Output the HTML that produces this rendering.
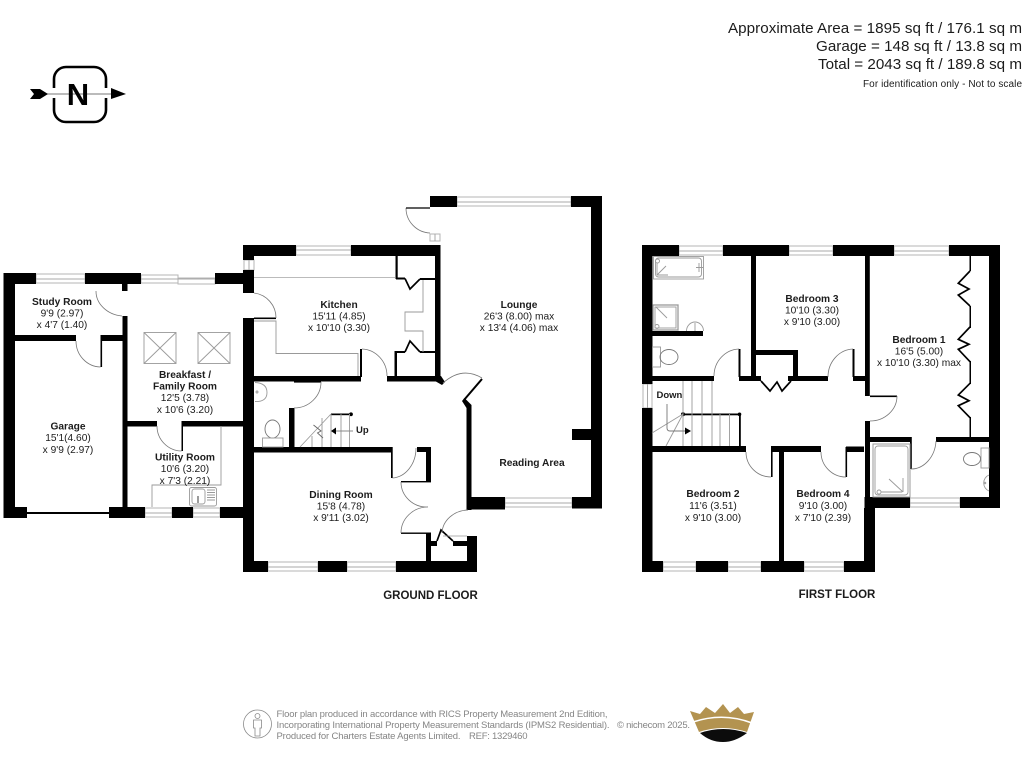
<!DOCTYPE html>
<html lang="en"><head><meta charset="utf-8"><title>Floor plan</title>
<style>
html,body{margin:0;padding:0;background:#fff;width:1024px;height:768px;overflow:hidden}
svg{display:block;filter:blur(.3px)}
text{font-family:"Liberation Sans",sans-serif;fill:#1c1c1c}
.r text,.r{text-anchor:middle;font-size:10.2px}
.b{font-weight:bold}
.w rect{fill:#000}
.win rect{fill:#fff;stroke:#b5b5b5;stroke-width:1}
.win line{stroke:#a8a8a8;stroke-width:1}
.g{fill:none;stroke:#9a9a9a;stroke-width:.9}
.d{fill:none;stroke:#777;stroke-width:.8}
.k{fill:none;stroke:#000;stroke-width:1.7}
</style></head><body>
<svg width="1024" height="768" viewBox="0 0 1024 768" xmlns="http://www.w3.org/2000/svg">
<rect width="1024" height="768" fill="#fff"/>

<!-- Header -->
<g style="text-anchor:end">
<text x="1022" y="33" font-size="15.2px" textLength="294">Approximate Area = 1895 sq ft / 176.1 sq m</text>
<text x="1022" y="51" font-size="15.2px" textLength="206">Garage = 148 sq ft / 13.8 sq m</text>
<text x="1022" y="69" font-size="15.2px" textLength="204">Total = 2043 sq ft / 189.8 sq m</text>
<text x="1022" y="87" font-size="10px" textLength="159">For identification only - Not to scale</text>
</g>

<!-- North -->
<g>
<path d="M54 88V79a12 12 0 0 1 12-12h28a12 12 0 0 1 12 12v9M54 98v12a12 12 0 0 0 12 12h28a12 12 0 0 0 12-12V98" fill="none" stroke="#000" stroke-width="2.6"/>
<line x1="46" y1="94" x2="112" y2="94" stroke="#777" stroke-width="1"/>
<polygon points="30,89 40,89 48,94 40,99 30,99 34,94" fill="#000"/>
<polygon points="111,88 126,94 111,99" fill="#000"/>
<text x="78" y="105" font-size="31px" class="b" text-anchor="middle" style="fill:#000">N</text>
</g>

<!-- GROUND FLOOR windows -->
<g class="win">
<rect x="36" y="274" width="49" height="9"/><line x1="36" y1="279" x2="85" y2="279"/>
<rect x="141" y="275" width="37" height="8"/><rect x="178" y="278" width="37" height="6"/><line x1="141" y1="279" x2="215" y2="279"/>
<rect x="145" y="508" width="27" height="9"/><line x1="145" y1="513" x2="172" y2="513"/>
<rect x="193" y="508" width="27" height="9"/><line x1="193" y1="513" x2="220" y2="513"/>
<rect x="296" y="246" width="55" height="9"/><line x1="296" y1="250" x2="351" y2="250"/>
<rect x="457" y="197" width="114" height="9"/><line x1="457" y1="202" x2="571" y2="202"/>
<rect x="505" y="498" width="67" height="9"/><line x1="505" y1="503" x2="572" y2="503"/>
<rect x="268" y="562" width="50" height="9"/><line x1="268" y1="567" x2="318" y2="567"/>
<rect x="347" y="562" width="49" height="9"/><line x1="347" y1="567" x2="396" y2="567"/>
<rect x="430" y="234" width="10" height="7"/><line x1="435" y1="234" x2="435" y2="241"/>
<rect x="244" y="260" width="10" height="10"/><line x1="249" y1="260" x2="249" y2="270"/>
</g>

<!-- GROUND FLOOR walls -->
<g class="w">
<rect x="3.5" y="273" width="11.5" height="245"/>
<rect x="3.5" y="273" width="32.5" height="11"/>
<rect x="85" y="273" width="56" height="11"/>
<rect x="122" y="284" width="5.5" height="7"/>
<rect x="122.5" y="316" width="5" height="202"/>
<rect x="15" y="335" width="61" height="6"/>
<rect x="101" y="335" width="22" height="6"/>
<rect x="100.5" y="335" width="1.6" height="32"/>
<rect x="127" y="421" width="30" height="5.5"/>
<rect x="182" y="421" width="62" height="5.5"/>
<rect x="181.5" y="421" width="1.5" height="30"/>
<rect x="3.5" y="507" width="23.5" height="11"/>
<rect x="27" y="512" width="82" height="2"/>
<rect x="109" y="507" width="36" height="11"/>
<rect x="172" y="507" width="21" height="11"/>
<rect x="220" y="507" width="25" height="11"/>
<rect x="215" y="273" width="39" height="11"/>
<!-- kitchen/left wall -->
<rect x="243" y="245" width="53" height="11"/>
<rect x="351" y="245" width="89" height="11"/>
<rect x="243" y="245" width="11" height="15"/>
<rect x="243" y="270" width="11" height="23"/>
<rect x="243" y="318" width="11" height="254"/>
<rect x="254" y="317.5" width="22" height="1.6"/>
<rect x="435" y="245" width="5.5" height="136"/>
<rect x="254" y="376" width="107" height="5.5"/>
<rect x="360" y="349" width="2" height="28"/>
<rect x="387" y="376" width="53" height="5.5"/>
<polygon points="435,376 441,376 445,382 442,385 435,381"/>
<rect x="395.5" y="256" width="2.2" height="23"/>
<rect x="396" y="277.5" width="9" height="2"/>
<rect x="420" y="278" width="15" height="2"/>
<rect x="394.5" y="351" width="2.5" height="26"/>
<rect x="395" y="351" width="10" height="2"/>
<rect x="420" y="351" width="15" height="2"/>
<!-- lounge -->
<rect x="430" y="196" width="27" height="11"/>
<rect x="571" y="196" width="31" height="11"/>
<rect x="591" y="196" width="11" height="312"/>
<rect x="572" y="429" width="19" height="11"/>
<rect x="466.5" y="497" width="38.5" height="12.5"/>
<rect x="572" y="497" width="30" height="11.5"/>
<rect x="466.5" y="405" width="5" height="105"/>
<polygon points="462,401 464.500,398 471.500,405 471.500,408 466.500,408"/>
<!-- WC / hall -->
<rect x="289" y="408" width="5.5" height="39"/>
<rect x="294" y="381" width="27" height="1.6"/>
<rect x="254" y="447" width="138" height="5.5"/>
<rect x="391" y="447" width="1.7" height="31"/>
<rect x="417" y="447" width="14" height="5"/>
<rect x="426" y="447" width="5" height="35"/>
<rect x="401" y="481" width="30" height="1.4"/>
<rect x="401" y="532.5" width="30" height="1.4"/>
<rect x="426" y="533" width="5" height="28"/>
<rect x="431" y="541" width="6" height="5"/>
<rect x="453" y="541" width="14" height="5"/>
<rect x="467" y="536" width="10" height="36"/>
<rect x="243" y="561" width="25" height="11"/>
<rect x="318" y="561" width="29" height="11"/>
<rect x="396" y="561" width="81" height="11"/>
<rect x="331" y="413.5" width="20" height="1.7"/>
<circle cx="351" cy="414.3" r="1.9"/>
</g>
<line x1="482" y1="379" x2="464" y2="400" stroke="#000" stroke-width="2"/>

<!-- GROUND details -->
<path class="k" d="M405 278.5L410 289L420 279M405 352L410 341L420 352" stroke-width="1.2"/>
<path class="k" d="M437 541L441 530L453 541" stroke-width="1.2"/>
<g class="d">
<path d="M96 291A29 25 0 0 0 122 316"/>
<path d="M76 341A25 26 0 0 0 100.5 367"/>
<path d="M157 426A25 25 0 0 0 181.5 451"/>
<path d="M254 293A25 25 0 0 1 276 318"/>
<path d="M362 349A26 27 0 0 1 387 376"/>
<path d="M406 208A25 25 0 0 0 430 233"/>
<line x1="406" y1="208" x2="430" y2="208" stroke="#000" stroke-width="1.2"/>
<path d="M443 383Q462 366 482 378"/>
<path d="M321 382A27 26 0 0 1 294 408"/>
<path d="M392.500 478A25 30 0 0 0 416 448"/>
<path d="M401 482A26 25 0 0 0 428 507A27 26 0 0 0 401 533"/>
<path d="M442 533A27 24 0 0 1 468 510"/>
<path d="M443 536H467" stroke="#999"/>
</g>
<g class="g">
<path d="M221 426V485H152V507"/>
<rect x="189.5" y="487.5" width="27" height="18.5" rx="2"/>
<rect x="192" y="489" width="13" height="15" rx="2.5"/>
<path d="M207 490h8M207 492.500h8M207 495h8M207 497.500h8M207 500h8"/>
<path d="M198 496v7" stroke="#222"/>
<rect x="144" y="332.500" width="32" height="31"/><path d="M144 332.500L176 363.500M176 332.500L144 363.500"/>
<rect x="198" y="332.500" width="32" height="31"/><path d="M198 332.500L230 363.500M230 332.500L198 363.500"/>
<path d="M254 277.500H395" stroke="#bbb"/>
<path d="M254 321H276V353.500H358V376" stroke="#999"/>
<path d="M423 280V312H405V331H423V352"/>
<circle cx="257" cy="392" r="1"/>
<path d="M255 382.500Q267 383 267 392.500Q267 402 255 401.500"/>
<ellipse cx="272.500" cy="429" rx="7.500" ry="9" stroke="#777"/>
<rect x="262.500" y="438" width="20.500" height="9"/>
<path d="M322 418V447M331 414V447M341 414V447M349.500 414V447M331 414L300 447M312 436V447"/>
<path d="M313.500 425L321 431L317.500 433L323 438" stroke="#666"/>
<path d="M353 431H334" stroke="#888"/>
</g>
<polygon points="331,431 336,427.500 336,434.500" fill="#000"/>

<!-- FIRST FLOOR windows -->
<g class="win">
<rect x="679" y="246" width="44" height="9"/><line x1="679" y1="251" x2="723" y2="251"/>
<rect x="789" y="246" width="44" height="9"/><line x1="789" y1="251" x2="833" y2="251"/>
<rect x="894" y="246" width="55" height="9"/><line x1="894" y1="251" x2="949" y2="251"/>
<rect x="910" y="498" width="50" height="9"/><line x1="910" y1="503" x2="960" y2="503"/>
<rect x="663" y="562" width="33" height="9"/><line x1="663" y1="567" x2="696" y2="567"/>
<rect x="728" y="562" width="33" height="9"/><line x1="728" y1="567" x2="761" y2="567"/>
<rect x="804" y="562" width="40" height="9"/><line x1="804" y1="567" x2="844" y2="567"/>
<rect x="643" y="384" width="9" height="24"/><line x1="647.500" y1="384" x2="647.500" y2="408"/>
</g>

<!-- FIRST FLOOR walls -->
<g class="w">
<rect x="642" y="245" width="37" height="11"/>
<rect x="723" y="245" width="66" height="11"/>
<rect x="833" y="245" width="61" height="11"/>
<rect x="949" y="245" width="51" height="11"/>
<rect x="642" y="245" width="10.500" height="139"/>
<rect x="642" y="408" width="10.500" height="164"/>
<rect x="989" y="245" width="11" height="263"/>
<rect x="865" y="256" width="4.800" height="140"/>
<rect x="865" y="421" width="5" height="87"/>
<rect x="864.500" y="497" width="45.500" height="11"/>
<rect x="960" y="497" width="40" height="11"/>
<rect x="864" y="508" width="11" height="64"/>
<rect x="870" y="395.500" width="27" height="1.600"/>
<rect x="870" y="437" width="41" height="5"/>
<rect x="936" y="437" width="53" height="5"/>
<rect x="910" y="437" width="1.800" height="32"/>
<rect x="969.500" y="256" width="1.500" height="15"/>
<rect x="969.500" y="306" width="1.500" height="22"/>
<rect x="969.500" y="361" width="1.500" height="23"/>
<rect x="969.500" y="417" width="1.500" height="20"/>
<rect x="751" y="256" width="5" height="125"/>
<rect x="756" y="350" width="42" height="5"/>
<rect x="793" y="350" width="5" height="31"/>
<rect x="652" y="376" width="62" height="5"/>
<rect x="739" y="376" width="22" height="5"/>
<rect x="738.500" y="349" width="2" height="28"/>
<rect x="788" y="376" width="40" height="5"/>
<rect x="853" y="376" width="12" height="5"/>
<rect x="852.500" y="349" width="2" height="28"/>
<rect x="652" y="331" width="51" height="5"/>
<rect x="652" y="446" width="94" height="6"/>
<rect x="771" y="446" width="50" height="6"/>
<rect x="846" y="446.500" width="18" height="5.500"/>
<rect x="771" y="447" width="1.600" height="30"/>
<rect x="845.500" y="447" width="1.600" height="30"/>
<rect x="779" y="452" width="5" height="110"/>
<rect x="642" y="561" width="21" height="11"/>
<rect x="696" y="561" width="32" height="11"/>
<rect x="761" y="561" width="43" height="11"/>
<rect x="844" y="561" width="31" height="11"/>
<rect x="683" y="413.500" width="56" height="1.800"/>
<rect x="739" y="414" width="1.800" height="32"/>
<circle cx="683" cy="414.300" r="2"/><circle cx="739.500" cy="414.300" r="1.800"/>
</g>

<!-- FIRST details -->
<path class="k" d="M761 381L770 391L777 382L782 391L791 381" stroke-width="1.200"/>
<path class="k" d="M970 271L958.300 283.300L969 289L958.300 295L970 306M970 327L958.300 339.300L969 344.300L958.300 349.300L970 361.700M970 383.300L958.300 395L969 400.700L958.300 405.700L970 417.700" stroke-width="1.300"/>
<g class="d">
<path d="M714 376A26 27 0 0 1 739 349"/>
<path d="M828 377A26 28 0 0 1 853 349"/>
<path d="M897 396A27 25 0 0 1 870 421"/>
<path d="M911 469A25 30 0 0 0 936 441"/>
<path d="M746 452A25 25 0 0 0 771 477"/>
<path d="M821 452A25 25 0 0 0 846 477"/>
</g>
<g class="g">
<rect x="653.500" y="256.500" width="50" height="22.500"/>
<rect x="655.500" y="258" width="46" height="19" rx="3"/>
<circle cx="657.500" cy="261" r="2"/>
<path d="M657 275L666 266M657 275H668M657 275V263"/>
<path d="M699 263V272M696 267.500H703"/>
<rect x="653" y="305" width="25" height="25" stroke-width="1.300"/>
<rect x="655" y="307" width="21" height="21"/>
<circle cx="657" cy="326.500" r="2"/><path d="M656 307L667 318"/>
<path d="M686.500 331A8.500 9 0 0 1 703.500 331"/><path d="M695 323V331"/>
<rect x="652.500" y="347" width="8" height="20"/>
<ellipse cx="669" cy="357" rx="9" ry="7.500" stroke="#777"/>
<path d="M683 381V446M692 381V446M702 381V446M712 381V446M720 414V446M729.500 414V446"/>
<path d="M683 414L652 433M683 414L666 446"/>
<path d="M667 404V428Q667 431 670 431H688" stroke="#777"/>
<rect x="873" y="444" width="37" height="53" stroke-width="1"/>
<rect x="875" y="446" width="33" height="49" rx="3"/>
<circle cx="879" cy="492" r="2"/><path d="M889 479L903 492M881 492H902M903 478V492"/>
<rect x="981" y="448" width="8" height="20"/>
<ellipse cx="972" cy="459" rx="8.500" ry="6.500" stroke="#777"/>
<path d="M989 475A8 8.500 0 0 0 989 491"/><circle cx="985" cy="483" r=".8"/>
</g>
<polygon points="691,431 685,427.500 685,434.500" fill="#000"/>

<!-- Labels -->
<g class="r">
<text x="62" y="305" class="b">Study Room</text><text x="62" y="316.500">9'9 (2.97)</text><text x="62" y="328">x 4'7 (1.40)</text>
<text x="185" y="378" class="b">Breakfast /</text><text x="185" y="389.500" class="b">Family Room</text><text x="185" y="401">12'5 (3.78)</text><text x="185" y="413">x 10'6 (3.20)</text>
<text x="68" y="429.500" class="b">Garage</text><text x="68" y="441">15'1(4.60)</text><text x="68" y="453">x 9'9 (2.97)</text>
<text x="185" y="460.500" class="b">Utility Room</text><text x="185" y="472">10'6 (3.20)</text><text x="185" y="484">x 7'3 (2.21)</text>
<text x="339" y="308" class="b">Kitchen</text><text x="339" y="319.500">15'11 (4.85)</text><text x="339" y="331">x 10'10 (3.30)</text>
<text x="519" y="308" class="b">Lounge</text><text x="519" y="319.500">26'3 (8.00) max</text><text x="519" y="331">x 13'4 (4.06) max</text>
<text x="532" y="466" class="b">Reading Area</text>
<text x="341" y="498" class="b">Dining Room</text><text x="341" y="509.500">15'8 (4.78)</text><text x="341" y="521">x 9'11 (3.02)</text>
<text x="812" y="302" class="b">Bedroom 3</text><text x="812" y="313.500">10'10 (3.30)</text><text x="812" y="325">x 9'10 (3.00)</text>
<text x="919" y="343" class="b">Bedroom 1</text><text x="919" y="354.500">16'5 (5.00)</text><text x="919" y="366">x 10'10 (3.30) max</text>
<text x="713" y="497" class="b">Bedroom 2</text><text x="713" y="509">11'6 (3.51)</text><text x="713" y="521">x 9'10 (3.00)</text>
<text x="823" y="497" class="b">Bedroom 4</text><text x="823" y="509">9'10 (3.00)</text><text x="823" y="521">x 7'10 (2.39)</text>
</g>
<text x="356" y="433" font-size="9.500px" class="b">Up</text>
<text x="656.500" y="398" font-size="9.500px" class="b">Down</text>
<text x="430.500" y="599" font-size="11.500px" class="b" text-anchor="middle">GROUND FLOOR</text>
<text x="837" y="598" font-size="11.500px" class="b" text-anchor="middle">FIRST FLOOR</text>

<!-- Footer -->
<g style="fill:none;stroke:#8a8a8a;stroke-width:.8">
<circle cx="257.500" cy="724" r="14"/>
<circle cx="257.500" cy="716" r="2.500"/>
<path d="M253.500 720H261.500V728H260V736H255V728H253.500Z"/>
</g>
<g font-size="9.500px">
<text x="276.500" y="717" style="fill:#858585" textLength="331">Floor plan produced in accordance with RICS Property Measurement 2nd Edition,</text>
<text x="276.500" y="728" style="fill:#858585" textLength="333">Incorporating International Property Measurement Standards (IPMS2 Residential).</text>
<text x="276.500" y="739" style="fill:#858585" textLength="184">Produced for Charters Estate Agents Limited.</text>
<text x="469" y="739" style="fill:#858585" textLength="58.500">REF: 1329460</text>
<text x="617" y="728" style="fill:#858585" textLength="73">© nichecom 2025.</text>
</g>
<path d="M690 711L700 714L706 707L715 713L723 704L730 713L738 707L744 714L754 712L747 732Q723 724 699 732Z" fill="#b39350"/>
<path d="M693 722Q723 712 752 723" fill="none" stroke="#fff" stroke-width="1.500"/>
<path d="M700 733Q723 725 747 733Q735 742 723 742Q710 742 700 733Z" fill="#0c0c0c"/>
</svg>
</body></html>
